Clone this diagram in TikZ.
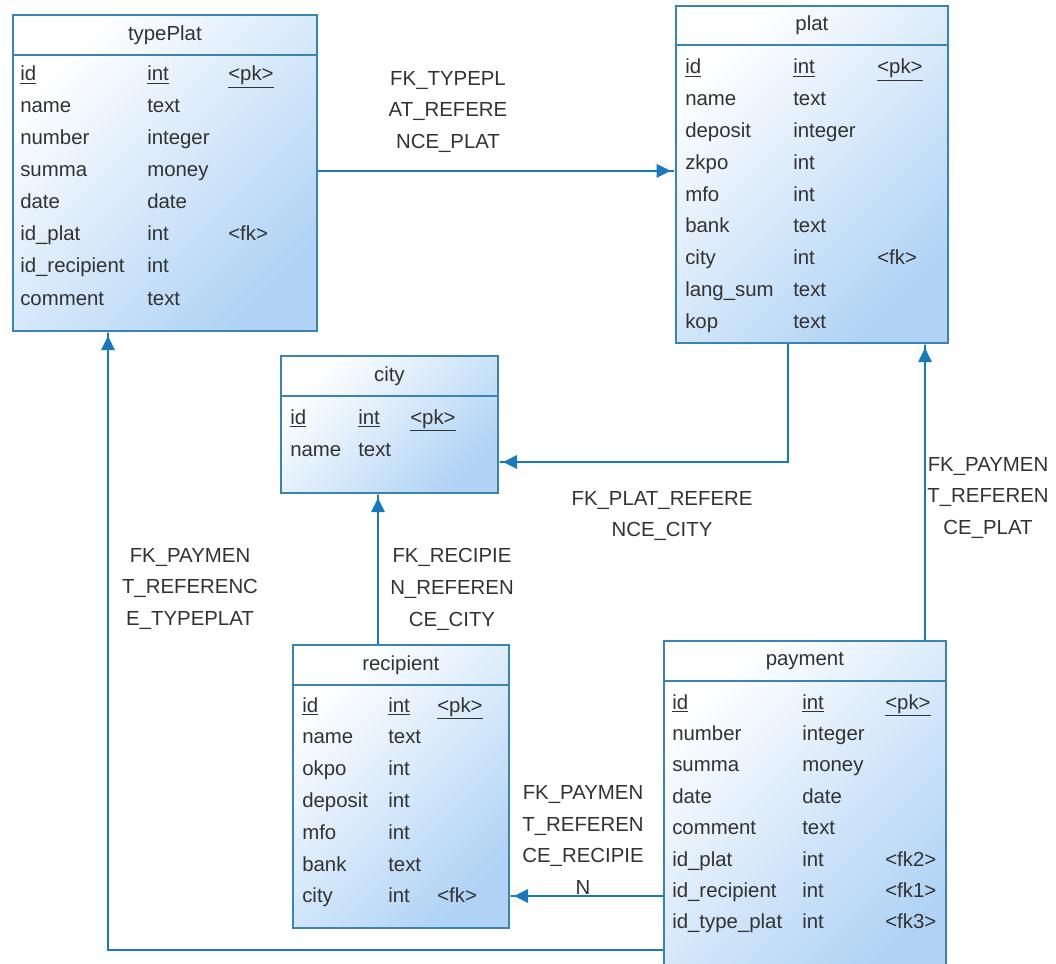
\documentclass[tikz,border=0pt]{standalone}
\usepackage{fontspec}
\setmainfont{Liberation Sans}
\usetikzlibrary{arrows.meta}
\usetikzlibrary{calc}
\usetikzlibrary{positioning}

\definecolor{tblblue}{RGB}{176,211,245}
\definecolor{tblline}{RGB}{58,132,176}
\definecolor{fkblue}{RGB}{24,122,190}
\definecolor{txtgray}{RGB}{50,50,50}
\newcommand{\erfont}{\fontsize{14.5}{22.7}\selectfont}

\begin{document}
\begin{tikzpicture}[x=0.025cm, y=-0.025cm,
    tbl/.style={rectangle, draw=tblline, line width=1.2pt, left color=white, right color=tblblue, shading angle=45, anchor=north west, inner sep=0pt},
    hdr/.style={draw=tblline, line width=1.2pt},
    title/.style={font=\erfont, text=txtgray, inner sep=0pt},
    fld/.style={anchor=base west, inner sep=0pt, font=\erfont, text=txtgray},
    fk/.style={draw=fkblue, line width=1.2pt, -{Triangle[length=10pt, width=9.5pt]Rectangle[length=3pt, width=1.2pt]}},
    fklbl/.style={align=center, font=\erfont, text=txtgray, inner sep=0pt}]
            \useasboundingbox (0,0) rectangle (1056,964);
            \clip (0,0) rectangle (1056,964);

            % Tables
            \node[tbl, minimum width=7.6cm, minimum height=7.9cm] (typePlat) at (12,14) {};
            \node[tbl, minimum width=6.8cm, minimum height=8.425cm] (plat) at (675,5) {};
            \node[tbl, minimum width=5.425cm, minimum height=3.425cm] (city) at (280,355) {};
            \node[tbl, minimum width=5.4cm, minimum height=7.075cm] (recipient) at (292,644) {};
            \node[tbl, minimum width=7.05cm, minimum height=8.5cm] (payment) at (663,640) {};

            % Headers
            \draw[hdr] ($(typePlat.north west)+(0,41)$) -- ($(typePlat.north east)+(0,41)$);
            \draw[hdr] ($(plat.north west)+(0,40)$) -- ($(plat.north east)+(0,40)$);
            \draw[hdr] ($(city.north west)+(0,41)$) -- ($(city.north east)+(0,41)$);
            \draw[hdr] ($(recipient.north west)+(0,41)$) -- ($(recipient.north east)+(0,41)$);
            \draw[hdr] ($(payment.north west)+(0,41)$) -- ($(payment.north east)+(0,41)$);
            \node[title] (typePlat-t) at ($(typePlat.north)+(0,21)$) {typePlat};
            \node[title] (plat-t) at ($(plat.north)+(0,20)$) {plat};
            \node[title] (city-t) at ($(city.north)+(0,21)$) {city};
            \node[title] (recipient-t) at ($(recipient.north)+(0,21)$) {recipient};
            \node[title] (payment-t) at ($(payment.north)+(0,21)$) {payment};

            % Columns
            \foreach \f/\t/\k [count=\i from 0] in {{\underline{id}}/{\underline{int}}/{\underline{<pk>}}, name/text/, number/integer/, summa/money/, date/date/, id\_plat/int/<fk>, id\_recipient/int/, comment/text/} {
                \node[fld] (typePlat-f\i) at ($(typePlat.north west)+(8,67+32*\i)$) {\f};
                \node[fld] (typePlat-t\i) at ($(typePlat.north west)+(135,67+32*\i)$) {\t};
                \node[fld] (typePlat-k\i) at ($(typePlat.north west)+(216,67+32*\i)$) {\k};
            }
            \foreach \f/\t/\k [count=\i from 0] in {{\underline{id}}/{\underline{int}}/{\underline{<pk>}}, name/text/, deposit/integer/, zkpo/int/, mfo/int/, bank/text/, city/int/<fk>, lang\_sum/text/, kop/text/} {
                \node[fld] (plat-f\i) at ($(plat.north west)+(10,69+31.8*\i)$) {\f};
                \node[fld] (plat-t\i) at ($(plat.north west)+(118,69+31.8*\i)$) {\t};
                \node[fld] (plat-k\i) at ($(plat.north west)+(202,69+31.8*\i)$) {\k};
            }
            \foreach \f/\t/\k [count=\i from 0] in {{\underline{id}}/{\underline{int}}/{\underline{<pk>}}, name/text/} {
                \node[fld] (city-f\i) at ($(city.north west)+(10,69+32*\i)$) {\f};
                \node[fld] (city-t\i) at ($(city.north west)+(78,69+32*\i)$) {\t};
                \node[fld] (city-k\i) at ($(city.north west)+(130,69+32*\i)$) {\k};
            }
            \foreach \f/\t/\k [count=\i from 0] in {{\underline{id}}/{\underline{int}}/{\underline{<pk>}}, name/text/, okpo/int/, deposit/int/, mfo/int/, bank/text/, city/int/<fk>} {
                \node[fld] (recipient-f\i) at ($(recipient.north west)+(10,68+31.8*\i)$) {\f};
                \node[fld] (recipient-t\i) at ($(recipient.north west)+(96,68+31.8*\i)$) {\t};
                \node[fld] (recipient-k\i) at ($(recipient.north west)+(145,68+31.8*\i)$) {\k};
            }
            \foreach \f/\t/\k [count=\i from 0] in {{\underline{id}}/{\underline{int}}/{\underline{<pk>}}, number/integer/, summa/money/, date/date/, comment/text/, id\_plat/int/<fk2>, id\_recipient/int/<fk1>, id\_type\_plat/int/<fk3>} {
                \node[fld] (payment-f\i) at ($(payment.north west)+(9,69+31.4*\i)$) {\f};
                \node[fld] (payment-t\i) at ($(payment.north west)+(139,69+31.4*\i)$) {\t};
                \node[fld] (payment-k\i) at ($(payment.north west)+(222,69+31.4*\i)$) {\k};
            }

            % References
            \coordinate (platS) at ($(plat.south west)+(113,0)$);
            \coordinate (paymentN) at ($(payment.north west)+(262,0)$);
            \coordinate (recipientN) at ($(recipient.north west)+(86,0)$);
            \coordinate (paymentW1) at ($(payment.north west)+(0,256)$);
            \coordinate (paymentW2) at ($(payment.north west)+(0,310)$);
            \coordinate (typePlatS) at ($(typePlat.south west)+(96,0)$);
            \draw[fk] ($(typePlat.east)+(0,-2)$) -- ($(typePlat.east -| plat.west)+(0,-2)$);
            \draw[fk] (platS) |- ($(city.north east)+(0,107)$);
            \draw[fk] (paymentN) -- (paymentN |- plat.south);
            \draw[fk] (recipientN) -- (recipientN |- city.south);
            \draw[fk] (paymentW1) -- (paymentW1 -| recipient.east);
            \draw[fk] (paymentW2) -| (typePlatS);

            % Labels
            \node[fklbl] (fkTP) at (448,112) {FK\_TYPEPL\\AT\_REFERE\\NCE\_PLAT};
            \node[fklbl] (fkPC) at (662,516) {FK\_PLAT\_REFERE\\NCE\_CITY};
            \node[fklbl] (fkPP) at (988,498) {FK\_PAYMEN\\T\_REFEREN\\CE\_PLAT};
            \node[fklbl] (fkRC) at (452,589) {FK\_RECIPIE\\N\_REFEREN\\CE\_CITY};
            \node[fklbl] (fkPR) at (583,840) {FK\_PAYMEN\\T\_REFEREN\\CE\_RECIPIE\\N};
            \node[fklbl] (fkPT) at (190,589) {FK\_PAYMEN\\T\_REFERENC\\E\_TYPEPLAT};

        \end{tikzpicture}
\end{document}
